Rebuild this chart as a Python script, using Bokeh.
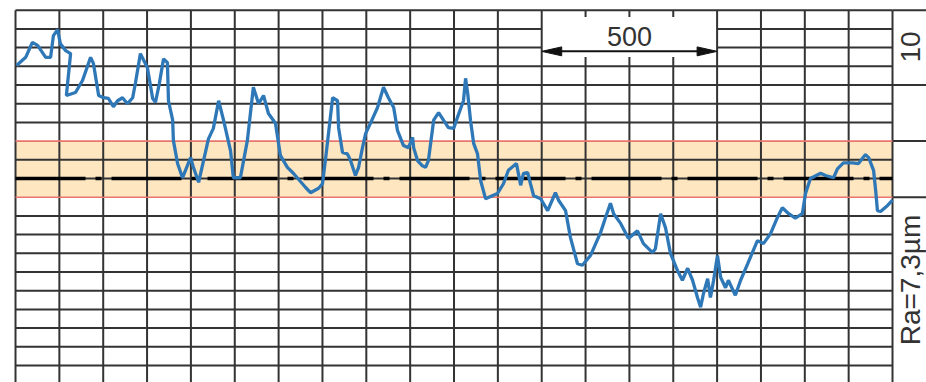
import numpy as np
from bokeh.plotting import figure
from bokeh.models import Range1d
from bokeh.embed import file_html
from bokeh.resources import INLINE
from bokeh.core.properties import value

# ---------------- data (µm) ----------------
profile_x = [3, 29, 48, 63, 86, 100, 108, 120, 128, 143, 157, 145, 171, 191, 214, 222, 237, 251,
             265, 279, 291, 305, 319, 334, 342, 356, 376, 391, 399, 410, 422, 433, 436, 448, 450,
             462, 476, 499, 507, 522, 536, 550, 564, 579, 593, 613, 621, 641, 661, 678, 693, 707,
             721, 741, 755, 775, 792, 827, 841, 864, 875, 884, 904, 918, 921, 932, 946, 955, 969,
             978, 989, 998, 1012, 1032, 1049, 1063, 1078, 1089, 1106, 1120, 1132, 1135, 1146, 1160,
             1169, 1177, 1192, 1206, 1220, 1234, 1249, 1260, 1277, 1283, 1289, 1297, 1306, 1317,
             1326, 1340, 1354, 1374, 1391, 1405, 1428, 1440, 1448, 1460, 1468, 1477, 1497, 1517,
             1539, 1548, 1568, 1582, 1602, 1616, 1639, 1668, 1682, 1696, 1705, 1725, 1747, 1773,
             1790, 1816, 1824, 1839, 1853, 1867, 1887, 1901, 1916, 1930, 1944, 1953, 1961, 1973,
             1981, 1990, 2001, 2010, 2024, 2032, 2052, 2067, 2087, 2115, 2132, 2152, 2172, 2186,
             2204, 2223, 2243, 2252, 2266, 2295, 2309, 2332, 2343, 2360, 2386, 2403, 2423, 2432,
             2446, 2452, 2457, 2466, 2486, 2500]
profile_y = [15.1, 16.2, 18.2, 17.8, 16.2, 16.2, 19.1, 19.9, 18.0, 17.1, 16.7, 11.1, 11.5, 13.1,
             16.2, 15.4, 11.1, 10.8, 10.7, 9.6, 10.4, 10.8, 10.0, 10.8, 12.8, 16.7, 14.8, 10.7,
             10.2, 12.7, 16.0, 15.5, 10.4, 7.8, 5.1, 2.0, 0.1, 2.8, 1.5, -0.5, 2.4, 5.3, 6.7, 10.4,
             7.8, 3.7, 0.1, 0.1, 5.1, 12.2, 10.0, 11.1, 8.7, 7.4, 3.1, 1.5, 0.7, -1.2, -1.9, -1.3,
             -0.7, 2.7, 10.8, 10.4, 6.8, 3.5, 3.3, 2.4, 0.4, 1.5, 4.1, 6.0, 7.4, 9.5, 12.2, 10.8,
             9.5, 6.4, 4.4, 4.1, 5.5, 4.1, 2.4, 1.7, 1.5, 2.4, 7.8, 8.8, 7.8, 6.8, 6.7, 8.2, 10.4,
             13.4, 11.4, 7.8, 4.7, 3.3, -0.3, -2.7, -2.4, -2.0, -0.7, 1.1, 2.0, -0.9, 0.7, 0.8,
             -0.7, -2.3, -2.7, -4.3, -1.9, -2.9, -4.3, -7.9, -11.4, -11.6, -10.3, -7.2, -5.2, -3.3,
             -4.7, -6.0, -8.0, -7.0, -8.7, -9.9, -9.4, -4.7, -6.6, -10.0, -12.3, -13.6, -12.0,
             -13.6, -15.9, -17.2, -15.4, -13.4, -15.9, -13.6, -10.3, -13.2, -14.6, -13.6, -15.6,
             -13.6, -11.4, -8.3, -8.7, -7.4, -5.2, -3.9, -4.7, -5.3, -4.7, -2.0, 0.0, 0.7, 0.4, 0.1,
             1.3, 2.1, 2.1, 2.0, 3.2, 2.8, 1.1, -1.6, -4.3, -4.4, -3.6, -2.9]

col_step = 125          # µm per grid column
row_step = 2.5          # µm per grid row
n_cols = 20
rows = list(range(-10, 10))     # visible grid rows
band_low, band_high = -2.5, 5.0  # highlighted band
scale_start, scale_end = 1500, 2000
scale_label = "500"
vscale_label = "10"
ra_label = "Ra=7,3µm"
panel_rows = [9, 5, 2, -1]      # dividers of the right-hand label column

# ---------------- figure ----------------
X0, X1 = -42.8, 2596.9
Y0, Y1 = -27.27, 23.80
p = figure(width=926, height=382, x_range=Range1d(X0, X1), y_range=Range1d(Y0, Y1),
           x_axis_type=None, y_axis_type=None, toolbar_location=None,
           output_backend="svg", min_border=0)
p.outline_line_color = None
p.background_fill_color = "white"
p.border_fill_color = "white"

x_end = n_cols * col_step
y_top = rows[-1] * row_step
GRID = "#333333"
RED = "#e8766c"

# band
p.quad(left=[0], right=[x_end], bottom=[band_low], top=[band_high],
       fill_color="#fde6c0", line_color=None)

# box around the scale annotation (gap in grid)
box_cols = (scale_start // col_step, scale_end // col_step)
box_rows_removed = [7, 8]
box_y_low, box_y_high = 16.25, 21.6

vx, vy = [], []
for c in range(n_cols + 1):
    x = c * col_step
    if box_cols[0] < c < box_cols[1]:
        vx += [[x, x], [x, x]]
        vy += [[Y0 - 1, box_y_low], [box_y_high, y_top]]
    else:
        vx.append([x, x])
        vy.append([Y0 - 1, y_top])

hx, hy, rx, ry = [], [], [], []
for r in rows:
    y = r * row_step
    if y in (band_low, band_high):
        rx.append([0, x_end]); ry.append([y, y])
    elif r in box_rows_removed:
        hx += [[0, scale_start], [scale_end, x_end]]
        hy += [[y, y], [y, y]]
    else:
        hx.append([0, x_end]); hy.append([y, y])
for r in panel_rows:
    y = r * row_step
    hx.append([x_end, X1 + 5]); hy.append([y, y])

p.multi_line(vx, vy, line_color=GRID, line_width=2)
p.multi_line(hx, hy, line_color=GRID, line_width=2)
p.multi_line(rx, ry, line_color=RED, line_width=1.6)

# mean line
p.line([0, x_end], [0, 0], line_color="black", line_width=3.5, line_dash="70 10 6 10")

# profile
p.line(profile_x, profile_y, line_color="#2f78b8", line_width=3.3)

# scale arrow
ay = 17.0
head_len = 57
head_hw = 0.6
p.line([scale_start + head_len * 0.5, scale_end - head_len * 0.5], [ay, ay],
       line_color="#111111", line_width=2)
p.patches([[scale_start, scale_start + head_len, scale_start + head_len],
           [scale_end, scale_end - head_len, scale_end - head_len]],
          [[ay, ay + head_hw, ay - head_hw], [ay, ay + head_hw, ay - head_hw]],
          fill_color="#111111", line_color="#111111", line_width=1)
p.text(x=[(scale_start + scale_end) / 2], y=[19.0], text=[scale_label],
       text_align="center", text_baseline="alphabetic", text_font_size="27px",
       text_font=value("Liberation Sans"), text_color="#333333")

# rotated labels in the right column
p.text(x=[2551], y=[15.5], text=[vscale_label], angle=np.pi / 2,
       text_align="left", text_baseline="alphabetic", text_font_size="28px",
       text_font=value("Liberation Sans"), text_color="#333333")
p.text(x=[2551], y=[-22.3], text=[ra_label], angle=np.pi / 2,
       text_align="left", text_baseline="alphabetic", text_font_size="28px",
       text_font=value("Liberation Sans"), text_color="#333333")

open("out.html", "w").write(file_html(p, INLINE))
